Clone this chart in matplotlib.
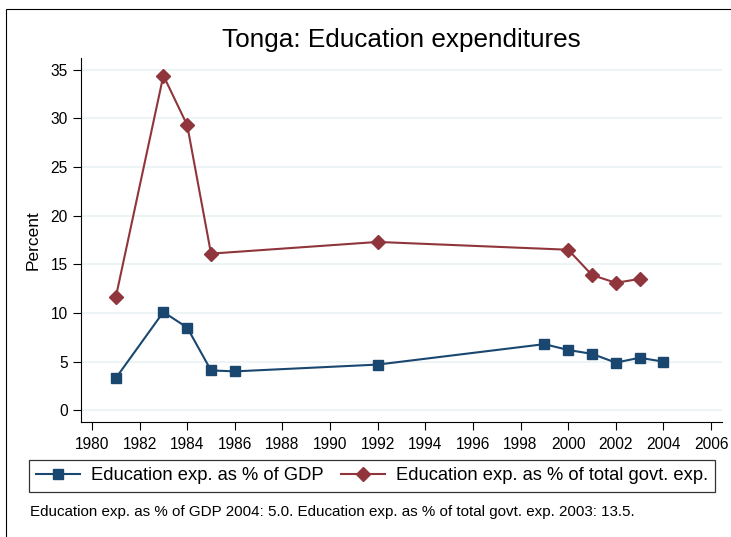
import matplotlib
matplotlib.use("Agg")
import matplotlib.pyplot as plt
from matplotlib.patches import Rectangle

plt.rcParams['font.family'] = ['Liberation Sans', 'DejaVu Sans']

years_gdp = [1981, 1983, 1984, 1985, 1986, 1992, 1999, 2000, 2001, 2002, 2003, 2004]
edu_gdp = [3.3, 10.1, 8.5, 4.1, 4.0, 4.7, 6.8, 6.2, 5.8, 4.9, 5.4, 5.0]
years_gov = [1981, 1983, 1984, 1985, 1992, 2000, 2001, 2002, 2003]
edu_gov = [11.6, 34.4, 29.3, 16.1, 17.3, 16.5, 13.9, 13.1, 13.5]
x_ticks = list(range(1980, 2007, 2))
y_ticks = [0, 5, 10, 15, 20, 25, 30, 35]

title = "Tonga: Education expenditures"
label_gdp = "Education exp. as % of GDP"
label_gov = "Education exp. as % of total govt. exp."
note = "Education exp. as % of GDP 2004: 5.0. Education exp. as % of total govt. exp. 2003: 13.5."

blue = "#1a476f"
red = "#90353b"

W, H = 731, 537
fig = plt.figure(figsize=(W / 100, H / 100), dpi=100)
ax = fig.add_axes([81 / W, 1 - 422 / H, (722 - 81) / W, (422 - 58) / H])

for y in y_ticks:
    ax.axhline(y, color="#eaf2f3", lw=1.2, zorder=0)

ax.plot(years_gdp, edu_gdp, color=blue, marker="s", ms=7.5, lw=1.5, label=label_gdp, zorder=3)
ax.plot(years_gov, edu_gov, color=red, marker="D", ms=7.5, lw=1.5, label=label_gov, zorder=3)

ax.set_xlim(1979.54, 2006.46)
ax.set_ylim(-1.2, 36.2)
ax.set_xticks(x_ticks)
ax.set_yticks(y_ticks)
ax.tick_params(axis="both", labelsize=11.2, length=6, width=0.8, direction="out")
ax.tick_params(axis="x", pad=5)
for s in ["top", "right"]:
    ax.spines[s].set_visible(False)
ax.spines["left"].set_linewidth(0.8)
ax.spines["bottom"].set_linewidth(0.8)
ax.set_ylabel("Percent", fontsize=12.5, labelpad=7)

fig.text(401 / W, 1 - 40 / H, title, ha="center", va="center", fontsize=18.8)

leg = fig.legend(loc="center", bbox_to_anchor=(372 / W, 1 - 476 / H), ncol=2,
                 fontsize=13.2, frameon=True, fancybox=False, edgecolor="black",
                 handlelength=2.4, handletextpad=0.6, columnspacing=0.95, borderpad=0.4)
leg.get_frame().set_linewidth(0.9)

fig.text(30 / W, 1 - 512 / H, note, ha="left", va="center", fontsize=10.9)

fig.add_artist(Rectangle((6 / W, -0.1), 1.2, 1 - 9 / H + 0.1, transform=fig.transFigure,
                         fill=False, edgecolor="black", lw=0.8))

fig.savefig("out.png", dpi=100)
